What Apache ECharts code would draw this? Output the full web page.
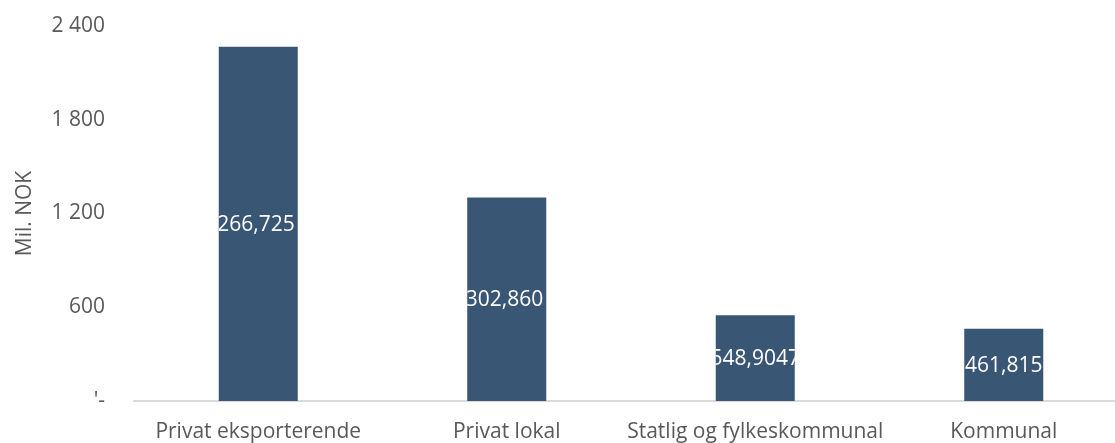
<!DOCTYPE html>
<html><head><meta charset="utf-8">
<script src="https://cdn.jsdelivr.net/npm/echarts@6/dist/echarts.min.js"></script>
<style>html,body{margin:0;padding:0;background:#fff;overflow:hidden}#c{width:1128px;height:443px}</style>
</head><body><div id="c"></div>
<script>
var categories = ['Privat eksporterende', 'Privat lokal', 'Statlig og fylkeskommunal', 'Kommunal'];
var values = [2266.725, 1302.860, 548.9047, 461.815];
var valueLabels = ['2 266,725', '1 302,860', '548,9047', '461,815'];
var yTicks = [0, 600, 1200, 1800, 2400];

function fmtTick(v) {
  if (v === 0) return "'-";
  return String(v).replace(/\B(?=(\d{3})+(?!\d))/g, ' ');
}
var BAR_FRAC = 0.318;
var chart = echarts.init(document.getElementById('c'));
chart.setOption({
  animation: false,
  grid: { left: 134, right: 0, top: 26, bottom: 40, containLabel: false },
  xAxis: {
    type: 'category', data: categories,
    axisLine: { lineStyle: { color: '#d9d9d9', width: 2 } },
    axisTick: { show: false },
    axisLabel: { color: '#595959', fontFamily: 'Open Sans', fontSize: 21, margin: 21, interval: 0 }
  },
  yAxis: {
    type: 'value', min: yTicks[0], max: yTicks[yTicks.length - 1], interval: 600,
    name: 'Mil. NOK', nameLocation: 'middle', nameGap: 98, nameRotate: 90,
    nameTextStyle: { color: '#595959', fontFamily: 'Open Sans', fontSize: 21 },
    axisLine: { show: false }, axisTick: { show: false }, splitLine: { show: false },
    axisLabel: { color: '#595959', fontFamily: 'Open Sans', fontSize: 21, margin: 29, formatter: fmtTick }
  },
  series: [{
    type: 'bar', data: values, barWidth: (BAR_FRAC * 100) + '%',
    itemStyle: { color: '#3a5675' }
  }, {
    type: 'custom', coordinateSystem: 'cartesian2d', z: 10,
    encode: { x: 0, y: 1 },
    data: values.map(function (v, i) { return [i, v]; }),
    renderItem: function (params, api) {
      var i = api.value(0), v = api.value(1);
      var top = api.coord([i, v]);
      var base = api.coord([i, 0]);
      var w = api.size([1, 0])[0] * BAR_FRAC;
      var txt = valueLabels[i];
      var big = txt.indexOf(' ') >= 0;
      return {
        type: 'group',
        x: top[0], y: (top[1] + base[1]) / 2,
        clipPath: { type: 'rect', shape: { x: -w / 2, y: -30, width: w, height: 60 } },
        children: [{
          type: 'text',
          x: big ? w / 2 - 3 : 0,
          y: 1,
          style: {
            text: txt, fill: '#ffffff', fontFamily: 'Open Sans', fontSize: 21,
            align: big ? 'right' : 'center', verticalAlign: 'middle'
          }
        }]
      };
    }
  }]
});
</script></body></html>
